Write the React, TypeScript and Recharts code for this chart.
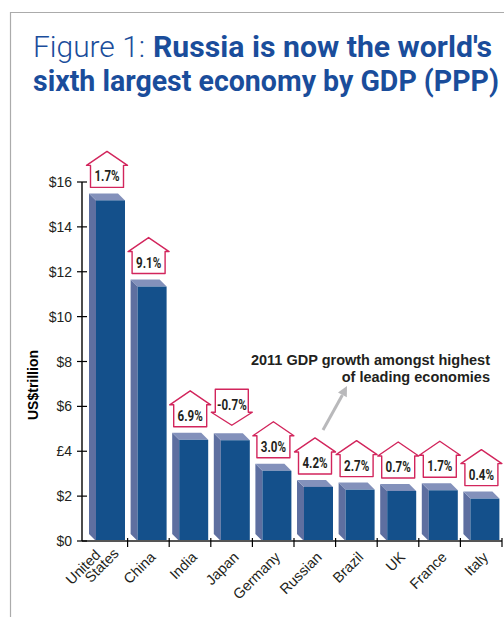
import { BarChart, Bar, XAxis, YAxis } from "recharts";

const COUNTRIES = ["United States", "China", "India", "Japan", "Germany", "Russian", "Brazil", "UK", "France", "Italy"];
const GDP_TRILLION = [15.18, 11.34, 4.51, 4.49, 3.13, 2.41, 2.29, 2.23, 2.26, 1.89];
const GROWTH_2011 = [1.7, 9.1, 6.9, -0.7, 3.0, 4.2, 2.7, 0.7, 1.7, 0.4];
const Y_TICKS = [0, 2, 4, 6, 8, 10, 12, 14, 16];
const Y_TICK_LABELS = ["$0", "$2", "£4", "$6", "$8", "$10", "$12", "$14", "$16"];

const data = COUNTRIES.map((country, i) => ({
  country,
  gdp: GDP_TRILLION[i],
  growth: GROWTH_2011[i],
}));

const SANS = "'Liberation Sans', Arial, Helvetica, sans-serif";
const TITLE = "Roboto, 'Liberation Sans', sans-serif";
const BLUE = "#1a4d9b";
const RED = "#d2255c";

// condensed look: Roboto bold squeezed horizontally
function PctText({ x, y, label }: { x: number; y: number; label: string }) {
  return (
    <text
      transform={`translate(${x},${y}) scale(0.8,1)`}
      textAnchor="middle"
      fontFamily={TITLE}
      fontWeight="bold"
      fontSize={14.5}
      fill="#231f20"
    >
      {label}
    </text>
  );
}

function GrowthArrow({ cx, top, value }: { cx: number; top: number; value: number }) {
  const label = `${value.toFixed(1)}%`;
  const bw = 16.5;
  const sw = 20.5;
  if (value >= 0) {
    const b = top - 13;
    const sh = b - 22;
    const tip = sh - 14;
    const d = `M${cx - bw},${b} L${cx + bw},${b} L${cx + bw},${sh} L${cx + sw},${sh} L${cx},${tip} L${cx - sw},${sh} L${cx - bw},${sh} Z`;
    return (
      <g>
        <path d={d} fill="#fff" stroke={RED} strokeWidth={1.4} strokeLinejoin="round" />
        <PctText x={cx} y={b - 6} label={label} />
      </g>
    );
  }
  const tip = top - 15;
  const sh = tip - 13;
  const t = sh - 23;
  const d = `M${cx - bw},${t} L${cx + bw},${t} L${cx + bw},${sh} L${cx + sw},${sh} L${cx},${tip} L${cx - sw},${sh} L${cx - bw},${sh} Z`;
  return (
    <g>
      <path d={d} fill="#fff" stroke={RED} strokeWidth={1.4} strokeLinejoin="round" />
      <PctText x={cx} y={sh - 2} label={label} />
    </g>
  );
}

function Box3D(props: any) {
  const { x, y, width, height, payload } = props;
  const d = 7;
  const base = y + height;
  return (
    <g>
      <polygon points={`${x},${y - d} ${x + d},${y} ${x + d},${base} ${x},${base - d}`} fill="#5e6fa0" />
      <polygon points={`${x},${y - d} ${x + width - d},${y - d} ${x + width},${y} ${x + d},${y}`} fill="#8391bb" />
      <rect x={x + d} y={y} width={width - d} height={height} fill="#14508b" />
      <GrowthArrow cx={x + width / 2} top={y} value={payload.growth} />
    </g>
  );
}

function YTick({ x, y, payload }: any) {
  const i = Y_TICKS.indexOf(payload.value);
  return (
    <g>
      <line x1={x - 5} x2={x + 5} y1={y} y2={y} stroke="#000" strokeWidth={1.2} />
      <text x={x - 10} y={y} dy={5} textAnchor="end" fontFamily={SANS} fontSize={14} fill="#231f20">
        {Y_TICK_LABELS[i]}
      </text>
    </g>
  );
}

function XTick({ x, y, payload }: any) {
  const half = payload.offset ?? 20.8;
  const words = String(payload.value).split(" ");
  const ax = x + 8;
  const ay = y + 17;
  return (
    <g>
      <line x1={x + half} x2={x + half} y1={y - 3} y2={y + 6} stroke="#000" strokeWidth={1.2} />
      <g transform={`translate(${ax},${ay}) rotate(-45)`} fontFamily={SANS} fontSize={14.5} fill="#231f20">
        {words.length > 1 ? (
          <>
            <text x={-8} y={-11} textAnchor="end">
              {words[0]}
            </text>
            <text x={6} y={1} textAnchor="end">
              {words[1]}
            </text>
          </>
        ) : (
          <text x={0} y={0} textAnchor="end">
            {words[0]}
          </text>
        )}
      </g>
    </g>
  );
}

export default function App() {
  return (
    <div style={{ position: "absolute", left: 0, top: 0, width: 504, height: 617, background: "#fff", overflow: "hidden" }}>
      <svg width={504} height={617} style={{ position: "absolute", left: 0, top: 0 }}>
        <line x1={10.5} x2={10.5} y1={12} y2={617} stroke="#ababab" strokeWidth={1.2} />
        <line x1={10} x2={504} y1={12.5} y2={12.5} stroke="#ababab" strokeWidth={1.2} />
        <text x={33} y={57} fontFamily={TITLE} fontWeight={300} fontSize={30} fill={BLUE} textLength={112} lengthAdjust="spacingAndGlyphs">
          Figure 1:
        </text>
        <text x={153} y={57} fontFamily={TITLE} fontWeight="bold" fontSize={30} fill={BLUE} textLength={339} lengthAdjust="spacingAndGlyphs">
          Russia is now the world's
        </text>
        <text x={33} y={91} fontFamily={TITLE} fontWeight="bold" fontSize={30} fill={BLUE} textLength={466} lengthAdjust="spacingAndGlyphs">
          sixth largest economy by GDP (PPP)
        </text>
        <text transform="translate(38,385) rotate(-90)" textAnchor="middle" fontFamily={SANS} fontWeight="bold" fontSize={14} fill="#000">
          US$trillion
        </text>
        <text x={490} y={365} textAnchor="end" fontFamily={SANS} fontWeight="bold" fontSize={14.5} fill="#231f20">
          2011 GDP growth amongst highest
        </text>
        <text x={490} y={382} textAnchor="end" fontFamily={SANS} fontWeight="bold" fontSize={14.5} fill="#231f20">
          of leading economies
        </text>
        <line x1={323} y1={430} x2={342.4} y2={394.9} stroke="#b9b9bb" strokeWidth={3} />
        <polygon points="347,386 346.8,397.2 338,392.6" fill="#b9b9bb" />
      </svg>
      <div style={{ position: "absolute", left: 0, top: 0 }}>
        <BarChart width={504} height={617} data={data} margin={{ top: 182, right: 2, left: 22, bottom: 16 }}>
          <XAxis
            dataKey="country"
            height={60}
            interval={0}
            padding={{ left: 4, right: 0 }}
            axisLine={{ stroke: "#555", strokeWidth: 2 }}
            tickLine={false}
            tickSize={0}
            tickMargin={0}
            tick={<XTick />}
          />
          <YAxis
            width={60}
            domain={[0, 16]}
            ticks={Y_TICKS}
            interval={0}
            axisLine={{ stroke: "#000", strokeWidth: 1.4 }}
            tickLine={false}
            tickSize={0}
            tickMargin={0}
            tick={<YTick />}
          />
          <Bar dataKey="gdp" barSize={36} shape={<Box3D />} isAnimationActive={false} />
        </BarChart>
      </div>
    </div>
  );
}
